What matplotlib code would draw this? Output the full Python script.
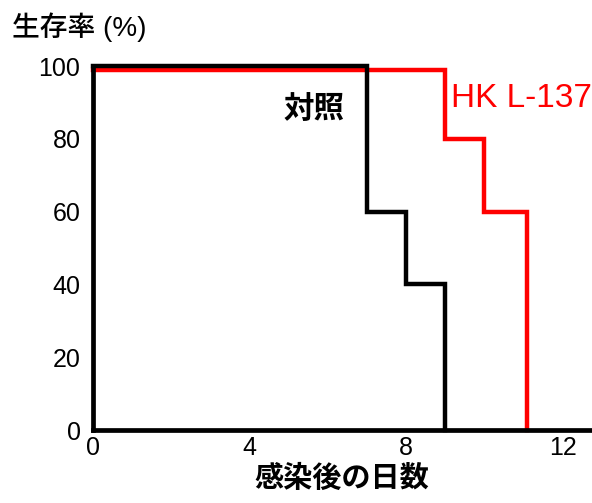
import matplotlib
matplotlib.use("Agg")
import matplotlib.pyplot as plt

# Data
control_days = [0, 7, 8, 9]
control_surv = [100, 60, 40, 0]
hk_days = [0, 9, 10, 11.1]
hk_surv = [99, 80, 60, 0]
x_ticks = [0, 4, 8, 12]
y_ticks = [0, 20, 40, 60, 80, 100]
control_label = "対照"
hk_label = "HK L-137"
y_title = "生存率 (%)"
x_title = "感染後の日数"

fam = ["Liberation Sans", "Noto Sans CJK JP", "DejaVu Sans"]
plt.rcParams["font.family"] = fam

fig = plt.figure(figsize=(5.92, 5.03), dpi=100)
ax = fig.add_axes([93/592, 1-430/503, (590-93)/592, (430-66)/503])

ax.step(hk_days, hk_surv, where="post", color="#ff0000", lw=3.2, clip_on=False, zorder=2, solid_joinstyle="miter")
ax.step(control_days, control_surv, where="post", color="black", lw=3.2, clip_on=False, zorder=3, solid_joinstyle="miter")

ax.set_xlim(0, 12.7)
ax.set_ylim(0, 100)
ax.set_xticks(x_ticks)
ax.set_yticks(y_ticks)
ax.tick_params(length=0, labelsize=18)
ax.tick_params(axis="y", pad=9)
ax.tick_params(axis="x", pad=4)
for s in ["top", "right"]:
    ax.spines[s].set_visible(False)
for s in ["left", "bottom"]:
    ax.spines[s].set_linewidth(3.4)
    ax.spines[s].set_zorder(4)

ax.set_xlabel(x_title, fontsize=21, fontweight="bold", labelpad=4)
fig.text(12/592, 1-27/503, y_title, fontsize=20, va="center", ha="left", fontweight="medium")

ax.text(6.42, 88, control_label, fontsize=22, fontweight="bold", ha="right", va="center")
ax.text(9.15, 91, hk_label, fontsize=24, color="#ff0000", ha="left", va="center")

fig.savefig("out.png", dpi=100)
